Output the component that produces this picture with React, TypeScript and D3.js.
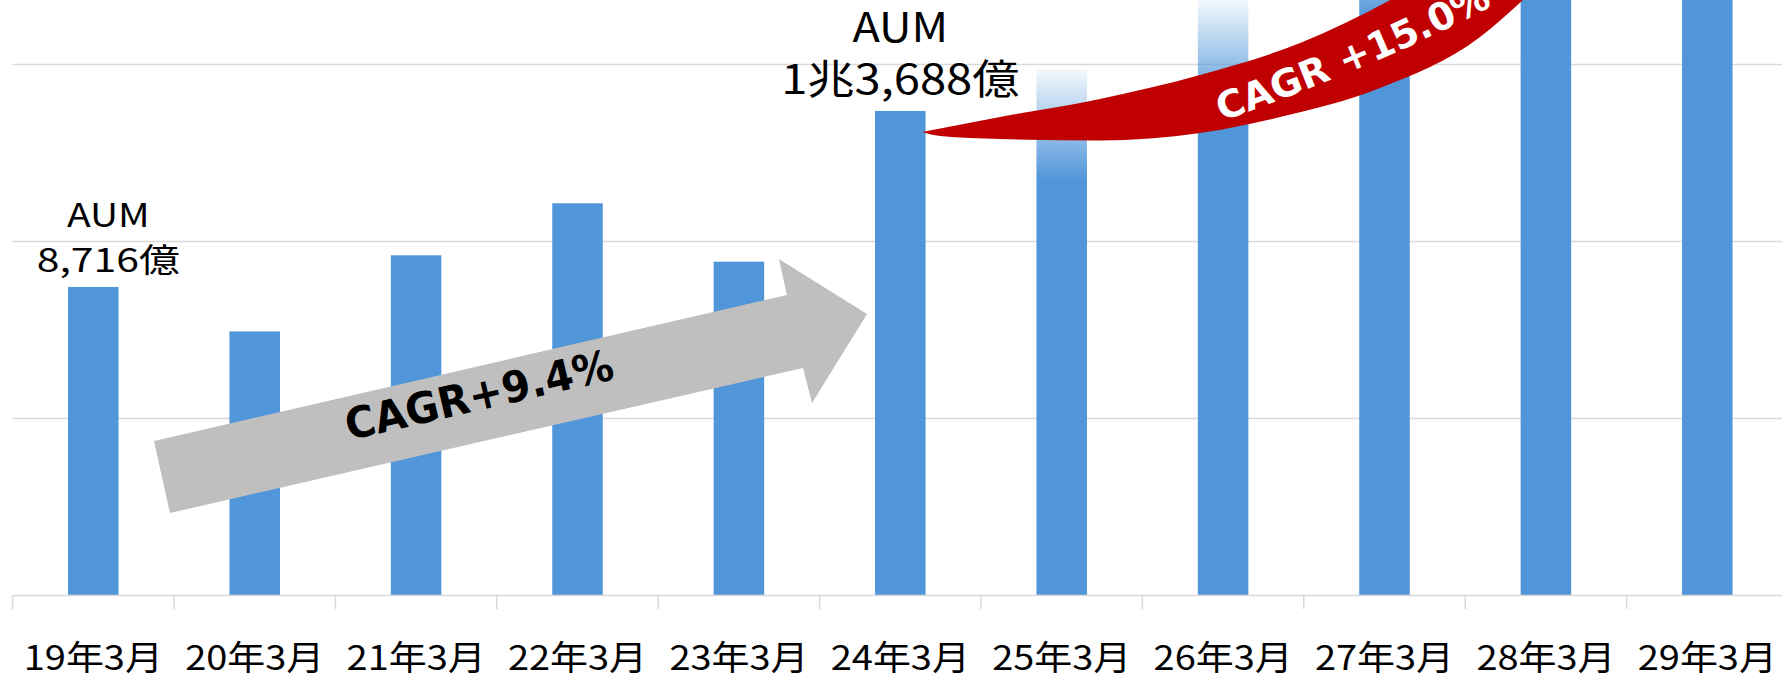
import React from 'react';
import * as d3 from 'd3';

// ---------- data ----------
const categories = ['19年3月', '20年3月', '21年3月', '22年3月', '23年3月', '24年3月', '25年3月', '26年3月', '27年3月', '28年3月', '29年3月'];
const aumValues = [8716, 7460, 9610, 11080, 9430, 13688, 14870, 16850, 19400, 22300, 25700];
const firstProjected = '25年3月';
const gridValues = [5000, 10000, 15000];
const calloutCategories = ['19年3月', '24年3月'];
const calloutLines = [['AUM', '8,716億'], ['AUM', '1兆3,688億']];
const cagrPastText = 'CAGR+9.4%';
const cagrFutureText = 'CAGR +15.0%';

// annotation geometry in chart units: [category position (band units from left edge), value]
const pastArrow: [number, number][] = [
  [0.876, 4364], [4.798, 8489], [4.748, 9506], [5.294, 7952], [4.953, 5438], [4.897, 6427], [0.975, 2331],
];
const ribbonTop: [number, number][] = [
  [5.634, 13093], [6.118, 13517], [6.737, 14026], [7.357, 14704], [7.977, 15608], [8.535, 16822], [8.906, 17811],
];
const ribbonBottom: [number, number][] = [
  [5.634, 13093], [5.746, 12980], [6.118, 12896], [6.737, 12853], [7.357, 13065], [7.853, 13517], [8.472, 14336], [9.092, 15777], [9.358, 16822], [9.587, 17811],
];
const ribbonTextPath: [number, number][] = [
  [7.419, 13263], [7.977, 14223], [8.535, 15269], [9.03, 16342], [9.402, 17218],
];
const pastTextAnchor: [number, number] = [2.911, 5252];

// ---------- layout ----------
const W = 1782;
const H = 676;
const plotLeft = 12.6;
const step = 161.4;
const axisY = 595.5;
const BAR = '#5096d9';
const GRID = '#d9d9d9';
const JP = '"Noto Sans CJK JP", "Noto Sans", sans-serif';
const calloutStyle = [
  { size: 33, dx: 15, off1: 60.3, off2: 15, sx1: 1.18, sx2: 1.24 },
  { size: 41, dx: 0, off1: 69.4, off2: 16.7, sx1: 1.1, sx2: 1.15 },
];

export default function App() {
  const x = d3.scaleBand<string>()
    .domain(categories)
    .range([plotLeft, plotLeft + step * categories.length])
    .paddingInner(0.687)
    .paddingOuter(0.3435);
  const y = d3.scaleLinear().domain([0, 20000]).range([axisY, axisY - 708]);
  const cx = d3.scaleLinear().domain([0, categories.length]).range([plotLeft, plotLeft + step * categories.length]);
  const P = (p: [number, number]): [number, number] => [cx(p[0]), y(p[1])];

  const projIdx = categories.indexOf(firstProjected);
  const fadeLen = 111;

  const arrowPts = pastArrow.map(P);
  const arrowPath = 'M' + arrowPts.map((p) => p.join(',')).join('L') + 'Z';
  const shaftAngle = (Math.atan2(arrowPts[1][1] - arrowPts[0][1], arrowPts[1][0] - arrowPts[0][0]) * 180) / Math.PI;
  const [tax, tay] = P(pastTextAnchor);

  const edge = d3.line<[number, number]>().curve(d3.curveMonotoneX);
  const topD = edge(ribbonTop.map(P)) as string;
  const botRev = edge(ribbonBottom.map(P).reverse()) as string;
  const ribbonD = topD + 'L' + botRev.slice(1) + 'Z';
  const textD = d3.line<[number, number]>().curve(d3.curveCatmullRom.alpha(0.5))(ribbonTextPath.map(P)) as string;

  const ticks = d3.range(categories.length + 1).map((k) => cx(k));

  return (
    <svg width={W} height={H} style={{ position: 'absolute', left: 0, top: 0, display: 'block', background: '#fff' }}>
      <defs>
        {categories.map((c, i) => {
          const top = y(aumValues[i]);
          return (
            <linearGradient key={c} id={`fade${i}`} gradientUnits="userSpaceOnUse" x1={0} x2={0} y1={top} y2={top + fadeLen}>
              <stop offset="0" stopColor={BAR} stopOpacity={0.06} />
              <stop offset="1" stopColor={BAR} stopOpacity={1} />
            </linearGradient>
          );
        })}
        <path id="cagrFuturePath" d={textD} />
      </defs>

      {gridValues.map((v) => (
        <line key={v} x1={plotLeft} x2={W} y1={y(v)} y2={y(v)} stroke={GRID} strokeWidth={1.5} />
      ))}

      {categories.map((c, i) => (
        <rect
          key={c}
          x={x(c)}
          width={x.bandwidth()}
          y={y(aumValues[i])}
          height={y(0) - y(aumValues[i])}
          fill={i >= projIdx ? `url(#fade${i})` : BAR}
        />
      ))}

      <line x1={plotLeft} x2={W} y1={axisY} y2={axisY} stroke={GRID} strokeWidth={1.5} />
      {ticks.map((t, k) => (
        <line key={k} x1={t} x2={t} y1={axisY} y2={axisY + 13.5} stroke={GRID} strokeWidth={1.5} />
      ))}

      {categories.map((c) => (
        <text
          key={c}
          transform={`translate(${(x(c) as number) + x.bandwidth() / 2},${axisY + 74}) scale(1.1,1)`}
          textAnchor="middle"
          fontFamily={JP}
          fontSize={34.5}
          fill="#000"
        >
          {c}
        </text>
      ))}

      <path d={arrowPath} fill="#bfbfbf" />
      <text
        transform={`translate(${tax},${tay}) rotate(${shaftAngle})`}
        textAnchor="middle"
        fontFamily='"DejaVu Sans", sans-serif'
        fontWeight="bold"
        fontSize={43}
        textLength={274}
        lengthAdjust="spacingAndGlyphs"
        fill="#000"
      >
        {cagrPastText}
      </text>

      <path d={ribbonD} fill="#c00000" />
      <text fontFamily='"DejaVu Sans", sans-serif' fontWeight="bold" fontSize={38} fill="#fff">
        <textPath href="#cagrFuturePath" startOffset={13}>
          {cagrFutureText}
        </textPath>
      </text>

      {calloutCategories.map((c, k) => {
        const i = categories.indexOf(c);
        const st = calloutStyle[k];
        const bx = (x(c) as number) + x.bandwidth() / 2 + st.dx;
        const by = y(aumValues[i]);
        return (
          <g key={c} fontFamily={JP} fontSize={st.size} fill="#000">
            <text transform={`translate(${bx},${by - st.off1}) scale(${st.sx1},1)`} textAnchor="middle">
              {calloutLines[k][0]}
            </text>
            <text transform={`translate(${bx},${by - st.off2}) scale(${st.sx2},1)`} textAnchor="middle">
              {calloutLines[k][1]}
            </text>
          </g>
        );
      })}
    </svg>
  );
}
